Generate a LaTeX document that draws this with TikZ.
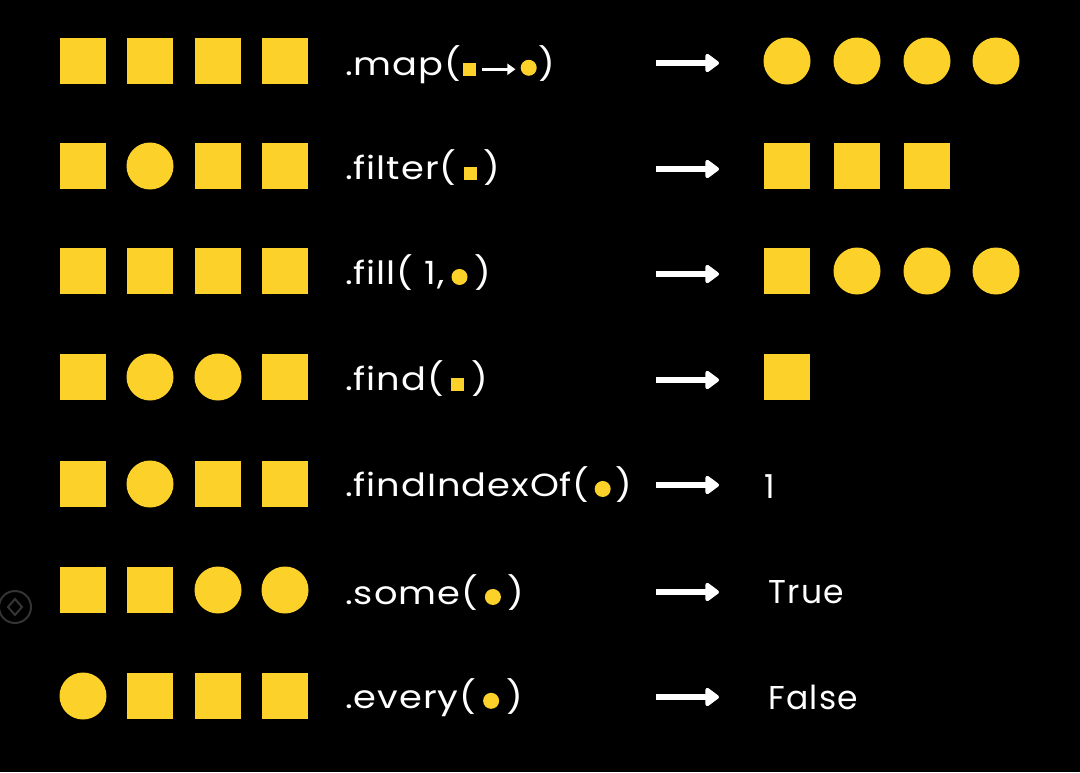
\documentclass[tikz,border=0pt]{standalone}
\usepackage{fontspec}
\setmainfont{Poppins}
\newfontfamily\codefont[FakeStretch=1.15,LetterSpace=3]{Poppins}
\newfontfamily\resfont[LetterSpace=4]{Poppins}
\usetikzlibrary{arrows.meta}
\definecolor{yel}{RGB}{252,210,42}
\definecolor{icon}{RGB}{52,52,52}
\newcommand\ysq{\textcolor{yel}{\rule{13pt}{13pt}}}
\newcommand\ydot{\tikz[baseline=0pt]\fill[yel] (8pt,8pt) circle (8pt);}
\newcommand\warr{\tikz[baseline=0pt]\draw[white,line width=2.6pt,-{Triangle[length=8pt,width=11pt]}] (0pt,6.5pt) -- (33pt,6.5pt);}
\newcommand\gap{\hspace{7pt}}
\begin{document}
\begin{tikzpicture}[x=1pt,y=-1pt,
  sq/.style={fill=yel,minimum size=46pt,inner sep=0pt,outer sep=0pt,rectangle},
  ci/.style={fill=yel,minimum size=47pt,inner sep=0pt,outer sep=0pt,circle},
  code/.style={anchor=west,inner sep=0pt,text=white,font=\codefont\fontsize{32}{38}\selectfont},
  res/.style={anchor=west,inner sep=0pt,text=white,font=\resfont\fontsize{33}{39}\selectfont},
  bigarrow/.style={white,line width=6pt,-{Triangle[length=15pt,width=21pt,round]}}]
\fill[black] (0,0) rectangle (1080,772);
\useasboundingbox (0,0) rectangle (1080,772);
% faint icon
\draw[icon,line width=2pt] (15,607) circle (16);
\draw[icon,line width=2pt] (15,599) -- (22,607) -- (15,615) -- (8,607) -- cycle;
% row 1
\node[sq] (r1a) at (83,61) {};
\node[sq] (r1b) at (150,61) {};
\node[sq] (r1c) at (218,61) {};
\node[sq] (r1d) at (285,61) {};
\node[code] (t1) at (345,65) {.map(\hspace{2pt}\ysq\hspace{5pt}\warr\hspace{4pt}\ydot\hspace{2pt})};
\coordinate (a1s) at (656,63); \coordinate (a1e) at (719,63);
\draw[bigarrow] (a1s) -- (a1e);
\node[ci] (o1a) at (787,61) {};
\node[ci] (o1b) at (857,61) {};
\node[ci] (o1c) at (927,61) {};
\node[ci] (o1d) at (996,61) {};
% row 2
\node[sq] (r2a) at (83,166) {};
\node[ci] (r2b) at (150,166) {};
\node[sq] (r2c) at (218,166) {};
\node[sq] (r2d) at (285,166) {};
\node[code] (t2) at (345,168) {.filter(\gap\ysq\gap)};
\coordinate (a2s) at (656,169); \coordinate (a2e) at (719,169);
\draw[bigarrow] (a2s) -- (a2e);
\node[sq] (o2a) at (787,166) {};
\node[sq] (o2b) at (857,166) {};
\node[sq] (o2c) at (927,166) {};
% row 3
\node[sq] (r3a) at (83,271) {};
\node[sq] (r3b) at (150,271) {};
\node[sq] (r3c) at (218,271) {};
\node[sq] (r3d) at (285,271) {};
\node[code] (t3) at (345,273) {.fill( 1,\gap\ydot\gap)};
\coordinate (a3s) at (656,274); \coordinate (a3e) at (719,274);
\draw[bigarrow] (a3s) -- (a3e);
\node[sq] (o3a) at (787,271) {};
\node[ci] (o3b) at (857,271) {};
\node[ci] (o3c) at (927,271) {};
\node[ci] (o3d) at (996,271) {};
% row 4
\node[sq] (r4a) at (83,377) {};
\node[ci] (r4b) at (150,377) {};
\node[ci] (r4c) at (218,377) {};
\node[sq] (r4d) at (285,377) {};
\node[code] (t4) at (345,379) {.find(\gap\ysq\gap)};
\coordinate (a4s) at (656,380); \coordinate (a4e) at (719,380);
\draw[bigarrow] (a4s) -- (a4e);
\node[sq] (o4a) at (787,377) {};
% row 5
\node[sq] (r5a) at (83,484) {};
\node[ci] (r5b) at (150,484) {};
\node[sq] (r5c) at (218,484) {};
\node[sq] (r5d) at (285,484) {};
\node[code] (t5) at (345,485) {.findIndexOf(\hspace{5pt}\ydot\hspace{5pt})};
\coordinate (a5s) at (656,485); \coordinate (a5e) at (719,485);
\draw[bigarrow] (a5s) -- (a5e);
\node[res] (o5) at (764,487) {1};
% row 6
\node[sq] (r6a) at (83,590) {};
\node[sq] (r6b) at (150,590) {};
\node[ci] (r6c) at (218,590) {};
\node[ci] (r6d) at (285,590) {};
\node[code] (t6) at (345,593) {.some(\gap\ydot\gap)};
\coordinate (a6s) at (656,592); \coordinate (a6e) at (719,592);
\draw[bigarrow] (a6s) -- (a6e);
\node[res] (o6) at (768,592) {True};
% row 7
\node[ci] (r7a) at (83,696) {};
\node[sq] (r7b) at (150,696) {};
\node[sq] (r7c) at (218,696) {};
\node[sq] (r7d) at (285,696) {};
\node[code] (t7) at (345,698) {.every(\gap\ydot\gap)};
\coordinate (a7s) at (656,697); \coordinate (a7e) at (719,697);
\draw[bigarrow] (a7s) -- (a7e);
\node[res] (o7) at (768,697) {False};
\end{tikzpicture}
\end{document}
